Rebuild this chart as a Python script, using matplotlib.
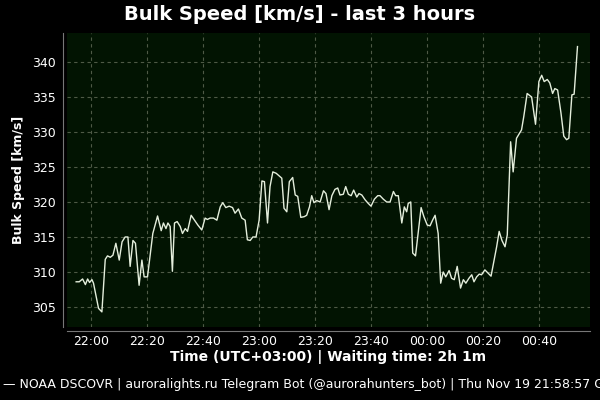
import numpy as np
import pandas as pd
import matplotlib
matplotlib.use("Agg")
import matplotlib.pyplot as plt
import matplotlib.dates as mdates

# minutes after 22:00 local time (UTC+03:00) and bulk speed in km/s
minutes = [-5.4, -4.3, -3.1, -2.1, -1.3, -0.6, 0.25, 0.8, 2.6, 3.8,
           5.0, 5.8, 6.8, 7.75, 8.8, 10.0, 11.0, 12.1, 13.1, 13.9,
           14.9, 15.8, 17.1, 18.1, 18.9, 20.1, 22.0, 23.7, 25.0, 25.8,
           26.7, 27.4, 28.2, 29.0, 29.75, 30.7, 31.8, 32.6, 33.6, 34.4,
           35.7, 36.9, 38.1, 39.5, 40.7, 41.5, 42.5, 43.7, 44.9, 46.1,
           47.0, 48.1, 49.3, 50.5, 51.4, 52.6, 53.8, 55.0, 55.8, 56.8,
           57.75, 58.9, 60.0, 61.0, 61.9, 63.0, 63.9, 64.9, 66.1, 67.25,
           68.1, 68.9, 69.9, 70.8, 72.0, 72.9, 73.8, 74.9, 76.1, 77.0,
           78.0, 78.8, 79.6, 80.6, 81.8, 83.0, 83.9, 85.0, 86.0, 87.1,
           88.1, 88.9, 90.1, 90.95, 91.9, 92.9, 93.8, 94.9, 95.7, 96.7,
           97.9, 99.0, 100.0, 101.2, 102.4, 103.2, 104.4, 105.6, 106.8, 108.0,
           108.8, 109.75, 111.0, 111.9, 112.75, 113.3, 114.2, 114.9, 115.9, 117.9,
           118.9, 120.1, 121.1, 122.0, 122.9, 124.0, 124.9, 125.8, 126.7, 127.9,
           128.8, 129.75, 130.8, 132.0, 133.0, 133.9, 135.0, 136.0, 136.8, 137.75,
           138.7, 139.5, 140.7, 141.9, 142.9, 144.0, 144.9, 145.8, 146.8, 147.9,
           148.7, 149.9, 150.8, 152.0, 153.8, 154.6, 155.8, 157.4, 158.8, 160.0,
           161.0, 161.9, 163.0, 163.9, 164.9, 165.7, 166.7, 167.9, 168.9, 169.9,
           170.7, 171.8, 172.6, 173.8]
speed = [308.6, 308.6, 309.0, 308.2, 309.0, 308.5, 308.9, 308.4, 304.8, 304.3,
         311.8, 312.3, 312.1, 312.4, 314.1, 311.7, 314.3, 315.0, 315.0, 310.8,
         314.5, 314.1, 308.1, 311.7, 309.3, 309.3, 315.5, 318.0, 315.9, 317.0,
         316.2, 317.0, 316.5, 310.1, 317.0, 317.2, 316.5, 315.5, 316.2, 315.8,
         318.1, 317.4, 316.7, 316.0, 317.7, 317.5, 317.7, 317.7, 317.4, 319.3,
         319.9, 319.2, 319.4, 319.2, 318.4, 319.0, 317.7, 317.4, 314.6, 314.5,
         315.0, 315.0, 317.4, 323.0, 322.9, 317.0, 322.2, 324.3, 324.1, 323.7,
         323.4, 319.1, 318.6, 322.9, 323.5, 321.0, 320.8, 317.8, 317.9, 318.1,
         319.3, 320.9, 319.9, 320.2, 320.0, 321.6, 321.2, 318.9, 320.9, 321.8,
         322.0, 321.0, 321.1, 322.2, 321.1, 320.9, 321.7, 320.7, 321.2, 321.0,
         320.3, 319.8, 319.4, 320.4, 320.9, 320.9, 320.4, 320.0, 320.0, 321.5,
         320.9, 320.9, 317.0, 319.3, 318.6, 319.8, 320.0, 312.7, 312.3, 319.2,
         317.9, 316.7, 316.6, 317.4, 318.1, 315.5, 308.4, 310.0, 309.3, 310.2,
         309.1, 308.9, 310.8, 307.7, 308.9, 308.4, 309.1, 309.6, 308.6, 309.3,
         309.7, 309.6, 310.3, 309.8, 309.4, 311.7, 313.6, 315.8, 314.5, 313.6,
         315.3, 328.6, 324.3, 329.1, 330.3, 332.2, 335.5, 335.0, 331.1, 337.2,
         338.1, 337.2, 337.5, 337.0, 335.5, 336.2, 336.0, 332.7, 329.4, 328.9,
         329.1, 335.3, 335.4, 342.2]

base = pd.Timestamp("2020-11-19 22:00")
times = base + pd.to_timedelta(minutes, unit="m")

title = "Bulk Speed [km/s] - last 3 hours"
xlab = "Time (UTC+03:00) | Waiting time: 2h 1m"
ylab = "Bulk Speed [km/s]"
footer = "\u2014 NOAA DSCOVR | auroralights.ru Telegram Bot (@aurorahunters_bot) | Thu Nov 19 21:58:57 GMT 2020"

fig = plt.figure(figsize=(6, 4), dpi=100, facecolor="black")
ax = fig.add_axes([0.112, 0.1825, 0.871, 0.735])
ax.set_facecolor("#021402")

ax.plot(times, speed, color="#e4eedc", linewidth=1.0)

ax.set_xlim(base + pd.Timedelta(minutes=-8.6), base + pd.Timedelta(minutes=178.2))
ax.set_ylim(302.14, 344.14)
ax.set_yticks([305, 310, 315, 320, 325, 330, 335, 340])
ax.xaxis.set_major_locator(mdates.MinuteLocator(byminute=[0, 20, 40]))
ax.xaxis.set_major_formatter(mdates.DateFormatter("%H:%M"))

ax.grid(True, color="#4e5a46", linestyle=(0, (3, 3)), linewidth=0.8)
ax.tick_params(colors="white", labelsize=9, length=0)
ax.tick_params(axis="y", pad=5)
ax.tick_params(axis="x", pad=3)
for s in ["top", "right"]:
    ax.spines[s].set_visible(False)
for s in ["left", "bottom"]:
    ax.spines[s].set_color("#777777")
    ax.spines[s].set_position(("outward", 3))

ax.set_xlabel(xlab, color="white", fontsize=10, fontweight="bold", labelpad=1)
ax.set_ylabel(ylab, color="white", fontsize=9, fontweight="bold", labelpad=5)
fig.text(0.5, 0.965, title, color="white", fontsize=14, fontweight="bold",
         ha="center", va="center")
fig.text(0.005, 0.038, footer, color="white", fontsize=9, ha="left", va="center")

fig.savefig("out.png", dpi=100, facecolor="black")
